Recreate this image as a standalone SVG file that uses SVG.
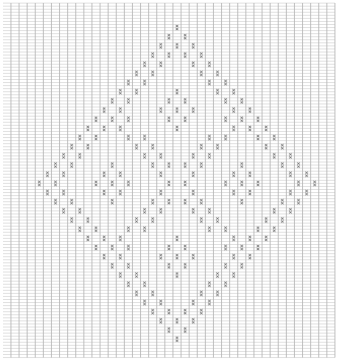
<svg xmlns="http://www.w3.org/2000/svg" xmlns:xlink="http://www.w3.org/1999/xlink" width="338" height="360" viewBox="0 0 338 360">
<style>
.hl{stroke:#d6d6d6;stroke-width:0.75;fill:none}
.vl{stroke:#b5b5b5;stroke-width:0.85;fill:none}
.mb{fill:#d2d2d2}
.mx{stroke:#6a6a6a;stroke-width:0.6;fill:none}
</style>
<defs>
<path id="h9" class="hl" d="M3 0H335M3 3.056H335M3 6.111H335M3 9.167H335M3 12.222H335M3 15.278H335M3 18.333H335M3 21.389H335M3 24.444H335"/>
<g id="m">
<rect class="mb" x="-1.6" y="0.35" width="3.2" height="2.4"/>
<rect class="mb" x="-1.6" y="3.4" width="3.2" height="2.4"/>
<path class="mx" d="M-1.1 0.5L1.1 2.6M1.1 0.5L-1.1 2.6M-1.1 3.55L1.1 5.65M1.1 3.55L-1.1 5.65"/>
</g>
</defs>
<rect width="338" height="360" fill="#ffffff"/>
<g id="grid">
<g id="hlines">
<use href="#h9" y="3.111"/><use href="#h9" y="30.611"/><use href="#h9" y="58.111"/><use href="#h9" y="85.611"/><use href="#h9" y="113.111"/><use href="#h9" y="140.611"/><use href="#h9" y="168.111"/><use href="#h9" y="195.611"/><use href="#h9" y="223.111"/><use href="#h9" y="250.611"/><use href="#h9" y="278.111"/><use href="#h9" y="305.611"/><use href="#h9" y="333.111"/>
</g>
<path id="vlines" class="vl" d="M10.95 3V357.5M19.05 3V357.5M27.15 3V357.5M35.25 3V357.5M43.35 3V357.5M51.45 3V357.5M59.55 3V357.5M67.65 3V357.5M75.75 3V357.5M83.85 3V357.5M91.95 3V357.5M100.05 3V357.5M108.15 3V357.5M116.25 3V357.5M124.35 3V357.5M132.45 3V357.5M140.55 3V357.5M148.65 3V357.5M156.75 3V357.5M164.85 3V357.5M172.95 3V357.5M181.05 3V357.5M189.15 3V357.5M197.25 3V357.5M205.35 3V357.5M213.45 3V357.5M221.55 3V357.5M229.65 3V357.5M237.75 3V357.5M245.85 3V357.5M253.95 3V357.5M262.05 3V357.5M270.15 3V357.5M278.25 3V357.5M286.35 3V357.5M294.45 3V357.5M302.55 3V357.5M310.65 3V357.5M318.75 3V357.5M326.85 3V357.5M334.95 3V357.5"/>
</g>
<g id="marks">
<g id="top">
<g transform="translate(0,24.5)"><use href="#m" x="177"/></g>
<g transform="translate(0,33.667)"><use href="#m" x="168.9"/><use href="#m" x="185.1"/></g>
<g transform="translate(0,42.833)"><use href="#m" x="160.8"/><use href="#m" x="177"/><use href="#m" x="193.2"/></g>
<g transform="translate(0,52)"><use href="#m" x="152.7"/><use href="#m" x="168.9"/><use href="#m" x="185.1"/><use href="#m" x="201.3"/></g>
<g transform="translate(0,61.167)"><use href="#m" x="144.6"/><use href="#m" x="160.8"/><use href="#m" x="193.2"/><use href="#m" x="209.4"/></g>
<g transform="translate(0,70.333)"><use href="#m" x="136.5"/><use href="#m" x="152.7"/><use href="#m" x="201.3"/><use href="#m" x="217.5"/></g>
<g transform="translate(0,79.5)"><use href="#m" x="128.4"/><use href="#m" x="144.6"/><use href="#m" x="209.4"/><use href="#m" x="225.6"/></g>
<g transform="translate(0,88.667)"><use href="#m" x="120.3"/><use href="#m" x="136.5"/><use href="#m" x="177"/><use href="#m" x="217.5"/><use href="#m" x="233.7"/></g>
<g transform="translate(0,97.833)"><use href="#m" x="112.2"/><use href="#m" x="128.4"/><use href="#m" x="168.9"/><use href="#m" x="185.1"/><use href="#m" x="225.6"/><use href="#m" x="241.8"/></g>
<g transform="translate(0,107)"><use href="#m" x="104.1"/><use href="#m" x="120.3"/><use href="#m" x="160.8"/><use href="#m" x="177"/><use href="#m" x="193.2"/><use href="#m" x="233.7"/><use href="#m" x="249.9"/></g>
<g transform="translate(0,116.167)"><use href="#m" x="96"/><use href="#m" x="112.2"/><use href="#m" x="128.4"/><use href="#m" x="168.9"/><use href="#m" x="185.1"/><use href="#m" x="225.6"/><use href="#m" x="241.8"/><use href="#m" x="258"/></g>
<g transform="translate(0,125.333)"><use href="#m" x="87.9"/><use href="#m" x="104.1"/><use href="#m" x="120.3"/><use href="#m" x="177"/><use href="#m" x="233.7"/><use href="#m" x="249.9"/><use href="#m" x="266.1"/></g>
<g transform="translate(0,134.5)"><use href="#m" x="79.8"/><use href="#m" x="96"/><use href="#m" x="128.4"/><use href="#m" x="144.6"/><use href="#m" x="209.4"/><use href="#m" x="225.6"/><use href="#m" x="258"/><use href="#m" x="274.2"/></g>
<g transform="translate(0,143.667)"><use href="#m" x="71.7"/><use href="#m" x="87.9"/><use href="#m" x="136.5"/><use href="#m" x="152.7"/><use href="#m" x="201.3"/><use href="#m" x="217.5"/><use href="#m" x="266.1"/><use href="#m" x="282.3"/></g>
<g transform="translate(0,152.833)"><use href="#m" x="63.6"/><use href="#m" x="79.8"/><use href="#m" x="144.6"/><use href="#m" x="160.8"/><use href="#m" x="193.2"/><use href="#m" x="209.4"/><use href="#m" x="274.2"/><use href="#m" x="290.4"/></g>
<g transform="translate(0,162)"><use href="#m" x="55.5"/><use href="#m" x="71.7"/><use href="#m" x="112.2"/><use href="#m" x="152.7"/><use href="#m" x="168.9"/><use href="#m" x="185.1"/><use href="#m" x="201.3"/><use href="#m" x="241.8"/><use href="#m" x="282.3"/><use href="#m" x="298.5"/></g>
<g transform="translate(0,171.167)"><use href="#m" x="47.4"/><use href="#m" x="63.6"/><use href="#m" x="104.1"/><use href="#m" x="120.3"/><use href="#m" x="160.8"/><use href="#m" x="193.2"/><use href="#m" x="233.7"/><use href="#m" x="249.9"/><use href="#m" x="290.4"/><use href="#m" x="306.6"/></g>
</g>
<g id="middle" transform="translate(0,180.333)"><use href="#m" x="39.3"/><use href="#m" x="55.5"/><use href="#m" x="96"/><use href="#m" x="112.2"/><use href="#m" x="128.4"/><use href="#m" x="168.9"/><use href="#m" x="185.1"/><use href="#m" x="225.6"/><use href="#m" x="241.8"/><use href="#m" x="258"/><use href="#m" x="298.5"/><use href="#m" x="314.7"/></g>
<use id="bottom" href="#top" transform="matrix(1 0 0 -1 0 366.778)"/>
</g>
</svg>
